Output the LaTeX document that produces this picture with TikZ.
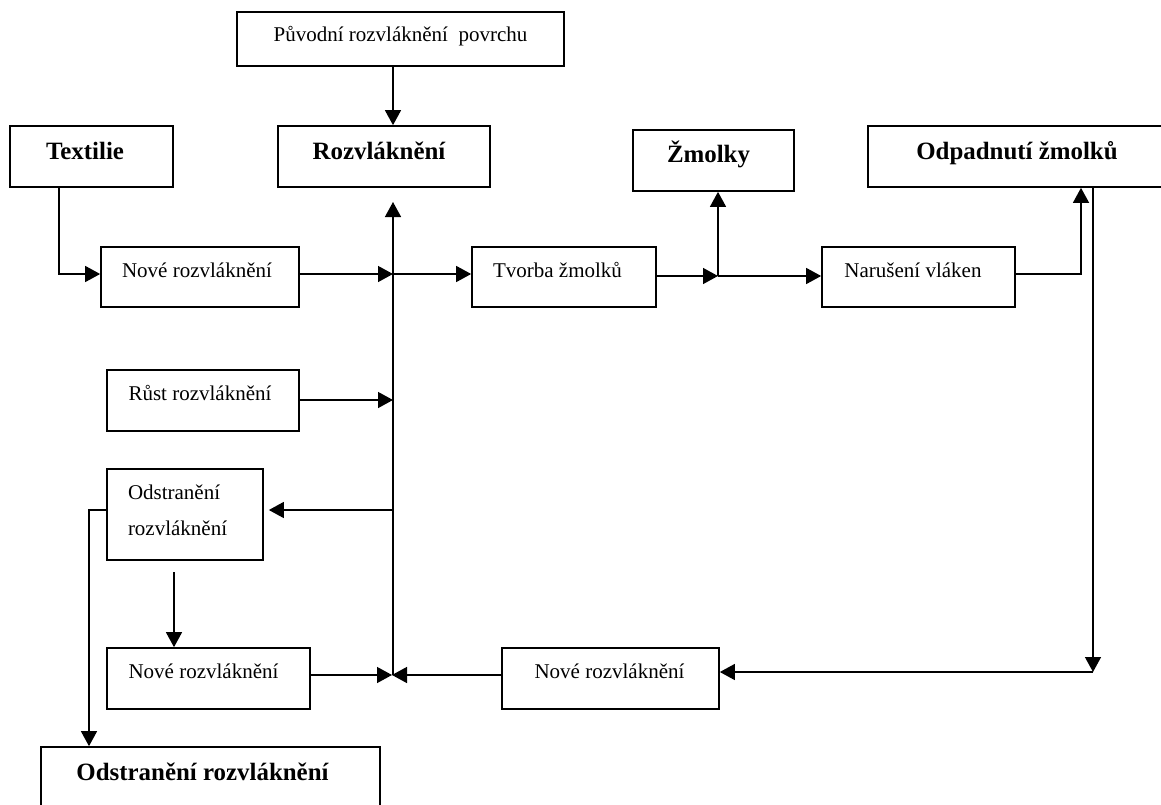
\documentclass[tikz,border=0pt]{standalone}
\usepackage{fontspec}
\setmainfont{Liberation Serif}
\usetikzlibrary{arrows.meta}
\begin{document}
\begin{tikzpicture}[x=1pt,y=-1pt,
  box/.style={draw, line width=1.7pt, inner sep=0pt, font=\fontsize{21}{25}\selectfont, text height=10pt, text depth=10pt},
  bbox/.style={box, font=\fontsize{24.9}{29}\selectfont\bfseries, text height=14pt, text depth=7pt},
  arr/.style={line width=1.4pt, -{Triangle[length=15pt,width=16pt]}},
  lsh/.style={execute at end node={\hspace*{#1}}},
]
\clip (0,0) rectangle (1161,805);

% boxes
\node[box, minimum width=327pt, minimum height=54pt, text height=13pt, text depth=7pt] (orig) at (400.5,39) {Původní rozvláknění~ povrchu};
\node[bbox, minimum width=163pt, minimum height=61pt, lsh=13pt] (tex) at (91.5,156.5) {Textilie};
\node[bbox, minimum width=212pt, minimum height=61pt, lsh=10pt] (rozv) at (384,156.5) {Rozvláknění};
\node[bbox, minimum width=161pt, minimum height=61pt, text height=13pt, text depth=8pt, lsh=10pt] (zmol) at (713.5,160.5) {Žmolky};
\node[bbox, minimum width=298pt, minimum height=61pt] (odp) at (1017,156.5) {Odpadnutí žmolků};
\node[box, minimum width=198pt, minimum height=60pt, lsh=6pt] (nove1) at (200,277) {Nové rozvláknění};
\node[box, minimum width=184pt, minimum height=60pt, lsh=13pt] (tvor) at (564,277) {Tvorba žmolků};
\node[box, minimum width=193pt, minimum height=60pt, lsh=11pt] (naru) at (918.5,277) {Narušení vláken};
\node[box, minimum width=192pt, minimum height=61pt, lsh=6pt] (rust) at (203,400.5) {Růst rozvláknění};
\node[box, minimum width=156pt, minimum height=91pt, font=\fontsize{21}{36}\selectfont, text width=114pt, align=left, text height=14pt, text depth=45pt] (odst) at (185,514.5) {Odstranění\\rozvláknění};
\node[box, minimum width=203pt, minimum height=61pt, lsh=10pt] (nove2) at (208.5,678.5) {Nové rozvláknění};
\node[box, minimum width=217pt, minimum height=61pt, lsh=2pt] (nove3) at (610.5,678.5) {Nové rozvláknění};
\node[bbox, minimum width=339pt, minimum height=66pt, text height=10pt, text depth=10pt, lsh=16pt] (odstB) at (210.5,780) {Odstranění rozvláknění};

% junction coordinates
\coordinate (J1) at (393,274);
\coordinate (Jtop) at (393,202);
\coordinate (Jbot) at (393,675);
\coordinate (J2) at (393,400);
\coordinate (J3) at (393,510);
\coordinate (T1) at (59,274);
\coordinate (J4) at (718,276);
\coordinate (J5) at (1081,274);
\coordinate (J6) at (1093,672);
\coordinate (L1) at (89,510);
\coordinate (D1) at (174,572);

% connectors
\draw[arr] (orig.south -| J1) -- (rozv.north -| J1);
\draw[arr] (Jbot) -- (Jtop);
\draw[arr] (tex.south -| T1) -- (T1) -- (nove1.west |- T1);
\draw[arr] (nove1.east |- J1) -- (J1);
\draw[arr] (J1) -- (tvor.west |- J1);
\draw[arr] (tvor.east |- J4) -- (J4);
\draw[arr] (J4) -- (zmol.south -| J4);
\draw[arr] (J4) -- (naru.west |- J4);
\draw[arr] (naru.east |- J5) -- (J5) -- (odp.south -| J5);
\draw[arr] (odp.south -| J6) -- (J6);
\draw[arr] (J6) -- (nove3.east |- J6);
\draw[arr, shorten >=-1pt] (nove3.west |- Jbot) -- (Jbot);
\draw[arr, shorten >=1pt] (nove2.east |- Jbot) -- (Jbot);
\draw[arr] (rust.east |- J2) -- (J2);
\draw[arr, shorten >=5pt] (J3) -- (odst.east |- J3);
\draw[arr] (odst.west |- L1) -- (L1) -- (odstB.north -| L1);
\draw[arr] (D1) -- (nove2.north -| D1);
\end{tikzpicture}
\end{document}
